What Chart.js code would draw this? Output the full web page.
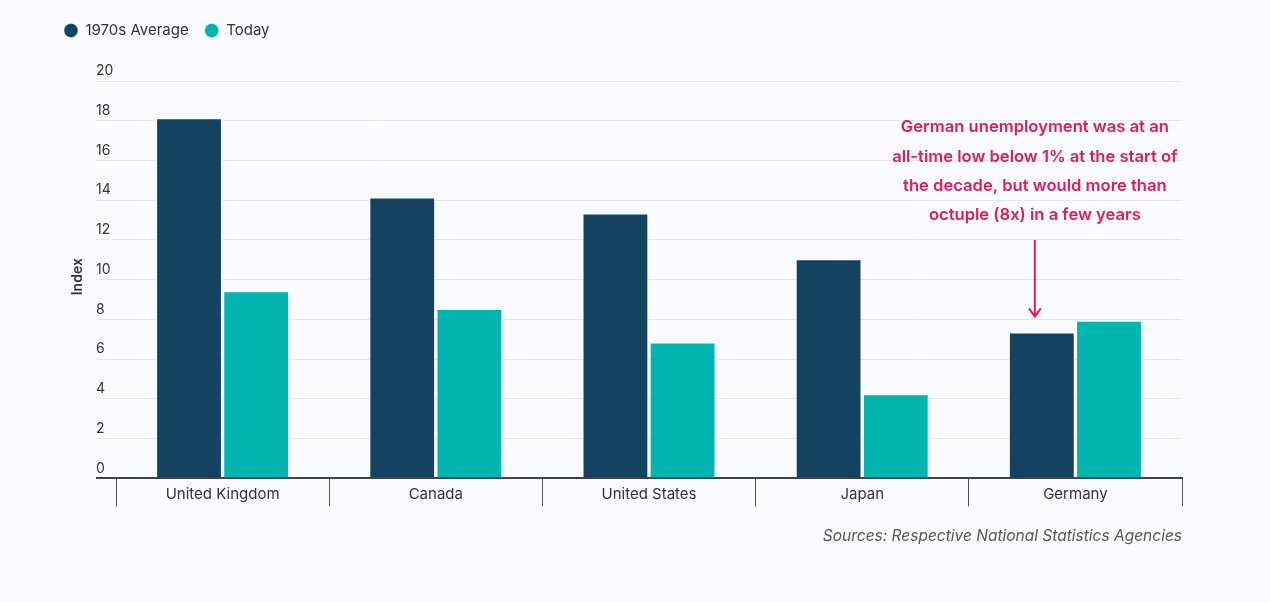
<!DOCTYPE html>
<html>
<head>
<meta charset="utf-8">
<script src="https://cdn.jsdelivr.net/npm/chart.js@4.4.1/dist/chart.umd.min.js"></script>
<style>
  html, body { margin: 0; padding: 0; background: #fafbfe; }
  #wrap { width: 1270px; height: 602px; }
</style>
</head>
<body>
<div id="wrap"><canvas id="chart"></canvas></div>
<script>
var countries = ["United Kingdom", "Canada", "United States", "Japan", "Germany"];
var avg1970s = [18.13, 14.14, 13.33, 11.03, 7.34];
var today = [9.42, 8.53, 6.84, 4.23, 7.93];
var seriesNames = ["1970s Average", "Today"];
var noteLines = [
    "German unemployment was at an",
    "all-time low below 1% at the start of",
    "the decade, but would more than",
    "octuple (8x) in a few years"
];
var sourceText = "Sources: Respective National Statistics Agencies";

var NAVY = "#144261";
var TEAL = "#00b5b0";
var PINK = "#e8175d";
var FONT = "Inter, 'Noto Sans', sans-serif";

// extra room under the legend
var legendGap = {
    id: "legendGap",
    beforeInit: function (chart) {
        var fit = chart.legend.fit;
        chart.legend.fit = function () {
            fit.bind(chart.legend)();
            this.height += 33;
        };
    }
};

// draws the y axis title and the German note with its arrow
var notePlugin = {
    id: "note",
    afterDraw: function (chart) {
        var ctx = chart.ctx;
        var y = chart.scales.y;
        var area = chart.chartArea;

        ctx.save();
        ctx.fillStyle = "#333333";
        ctx.font = "600 14px " + FONT;
        ctx.translate(78, (area.top + area.bottom) / 2 - 3);
        ctx.rotate(-Math.PI / 2);
        ctx.textAlign = "center";
        ctx.textBaseline = "middle";
        ctx.fillText("Index", 0, 0);
        ctx.restore();

        var bar = chart.getDatasetMeta(0).data[4];
        var cx = bar.x - 7;
        ctx.save();
        ctx.fillStyle = PINK;
        ctx.strokeStyle = PINK;
        ctx.font = "600 16.6px " + FONT;
        ctx.textAlign = "center";
        ctx.textBaseline = "middle";
        for (var i = 0; i < noteLines.length; i++) {
            ctx.fillText(noteLines[i], cx, y.getPixelForValue(17.67) + i * 29.3);
        }
        var top = y.getPixelForValue(12.0);
        var tip = y.getPixelForValue(8.15);
        ctx.lineWidth = 2;
        ctx.beginPath();
        ctx.moveTo(cx, top);
        ctx.lineTo(cx, tip);
        ctx.moveTo(cx - 6, tip - 8);
        ctx.lineTo(cx, tip);
        ctx.lineTo(cx + 6, tip - 8);
        ctx.stroke();
        ctx.restore();
    }
};

var ctx = document.getElementById("chart").getContext("2d");
var chart = new Chart(ctx, {
    type: "bar",
    data: {
        labels: countries,
        datasets: [
            { label: seriesNames[0], data: avg1970s, backgroundColor: NAVY, borderColor: "rgba(255,255,255,0.35)", borderWidth: 1 },
            { label: seriesNames[1], data: today, backgroundColor: TEAL, borderColor: "rgba(255,255,255,0.35)", borderWidth: 1 }
        ]
    },
    options: {
        responsive: true,
        maintainAspectRatio: false,
        animation: false,
        layout: { padding: { left: 48, right: 88, top: 7, bottom: 56 } },
        datasets: { bar: { categoryPercentage: 0.63, barPercentage: 0.98 } },
        plugins: {
            legend: {
                position: "top",
                align: "start",
                labels: {
                    usePointStyle: true,
                    pointStyle: "circle",
                    pointStyleWidth: 14,
                    boxHeight: 10,
                    padding: 16,
                    color: "#333333",
                    font: { family: FONT, size: 15 }
                }
            },
            title: {
                display: true,
                position: "bottom",
                align: "end",
                text: sourceText,
                color: "#555555",
                font: { family: FONT, size: 15.5, style: "italic", weight: "normal" },
                padding: { top: 9, bottom: 0 }
            },
            tooltip: { enabled: false }
        },
        scales: {
            x: {
                grid: {
                    drawOnChartArea: false,
                    drawTicks: true,
                    tickLength: 28,
                    color: "#555555",
                    lineWidth: 1
                },
                border: { display: true, color: "#3a4450", width: 2 },
                ticks: { color: "#333333", padding: -21, font: { family: FONT, size: 15 } },
                afterFit: function (scale) { scale.height = 40; }
            },
            y: {
                min: 0,
                max: 20,
                grid: {
                    drawTicks: true,
                    tickLength: 20,
                    color: function (c) { return c.tick && c.tick.value === 0 ? "#3a4450" : "#e6e8ee"; },
                    lineWidth: function (c) { return c.tick && c.tick.value === 0 ? 2 : 1; }
                },
                border: { display: false },
                ticks: {
                    stepSize: 2,
                    mirror: true,
                    padding: -20,
                    labelOffset: -10,
                    color: "#333333",
                    font: { family: FONT, size: 14 }
                },
                afterFit: function (scale) { scale.width = 68; }
            }
        }
    },
    plugins: [legendGap, notePlugin]
});
</script>
</body>
</html>
